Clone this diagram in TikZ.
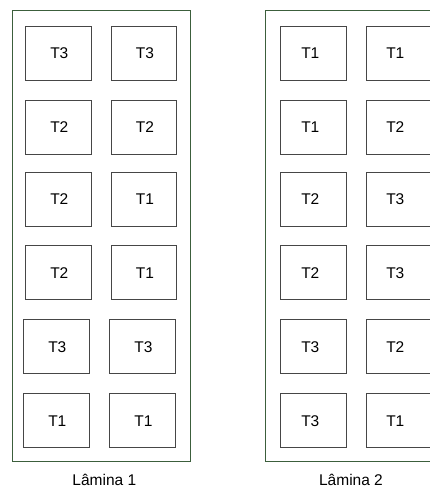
\documentclass[tikz,border=0pt]{standalone}
\usepackage{fontspec}
\setmainfont{Liberation Sans}
\definecolor{framegreen}{RGB}{60,95,60}
\definecolor{boxline}{RGB}{70,70,70}
\tikzset{
  plate/.style={draw=framegreen, line width=1pt},
  cell/.style={draw=boxline, line width=0.9pt, minimum width=65.5pt, minimum height=54pt, inner sep=0pt},
  lbl/.style={font=\fontsize{15.5}{15.5}\selectfont, inner sep=0pt},
  platecap/.style={font=\fontsize{15.5}{15.5}\selectfont, inner sep=0pt, anchor=base}
}
\begin{document}
\begin{tikzpicture}[x=1pt,y=-1pt]
\useasboundingbox (0,0) rectangle (429,487);
% plates
\coordinate (P1a) at (12,11); \coordinate (P1b) at (190,461);
\coordinate (P2a) at (265,11); \coordinate (P2b) at (443,461);
\draw[plate] (P1a) rectangle (P1b);
\draw[plate] (P2a) rectangle (P2b);
% Lamina 1
\node[cell, label={[lbl,xshift=1pt]center:T3}] (a11) at (58.3,53.3) {};
\node[cell, label={[lbl,xshift=1pt]center:T3}] (a12) at (144,53.3) {};
\node[cell, label={[lbl,xshift=1pt]center:T2}] (a21) at (58.3,127) {};
\node[cell, label={[lbl,xshift=1pt]center:T2}] (a22) at (144,127) {};
\node[cell, label={[lbl,xshift=1pt]center:T2}] (a31) at (58.3,199.2) {};
\node[cell, label={[lbl,xshift=1pt]center:T1}] (a32) at (144,199.2) {};
\node[cell, label={[lbl,xshift=1pt]center:T2}] (a41) at (58.3,272.8) {};
\node[cell, label={[lbl,xshift=1pt]center:T1}] (a42) at (144,272.8) {};
\node[cell, label={[lbl,xshift=1pt]center:T3}] (a51) at (56.3,346.7) {};
\node[cell, label={[lbl,xshift=1pt]center:T3}] (a52) at (142.5,346.7) {};
\node[cell, label={[lbl,xshift=1pt]center:T1}] (a61) at (56.3,420.7) {};
\node[cell, label={[lbl,xshift=1pt]center:T1}] (a62) at (142.5,420.7) {};
% Lamina 2
\node[cell, label={[lbl,xshift=-3pt]center:T1}] (b11) at (313.3,53.3) {};
\node[cell, label={[lbl,xshift=-4pt]center:T1}] (b12) at (399.3,53.3) {};
\node[cell, label={[lbl,xshift=-3pt]center:T1}] (b21) at (313.3,127) {};
\node[cell, label={[lbl,xshift=-4pt]center:T2}] (b22) at (399.3,127) {};
\node[cell, label={[lbl,xshift=-3pt]center:T2}] (b31) at (313.3,199.2) {};
\node[cell, label={[lbl,xshift=-4pt]center:T3}] (b32) at (399.3,199.2) {};
\node[cell, label={[lbl,xshift=-3pt]center:T2}] (b41) at (313.3,272.8) {};
\node[cell, label={[lbl,xshift=-4pt]center:T3}] (b42) at (399.3,272.8) {};
\node[cell, label={[lbl,xshift=-3pt]center:T3}] (b51) at (313.3,346.7) {};
\node[cell, label={[lbl,xshift=-4pt]center:T2}] (b52) at (399.3,346.7) {};
\node[cell, label={[lbl,xshift=-3pt]center:T3}] (b61) at (313.3,420.7) {};
\node[cell, label={[lbl,xshift=-4pt]center:T1}] (b62) at (399.3,420.7) {};
% captions
\node[platecap] (c1) at (104.3,485) {Lâmina 1};
\node[platecap] (c2) at (351,485) {Lâmina 2};
\end{tikzpicture}
\end{document}
